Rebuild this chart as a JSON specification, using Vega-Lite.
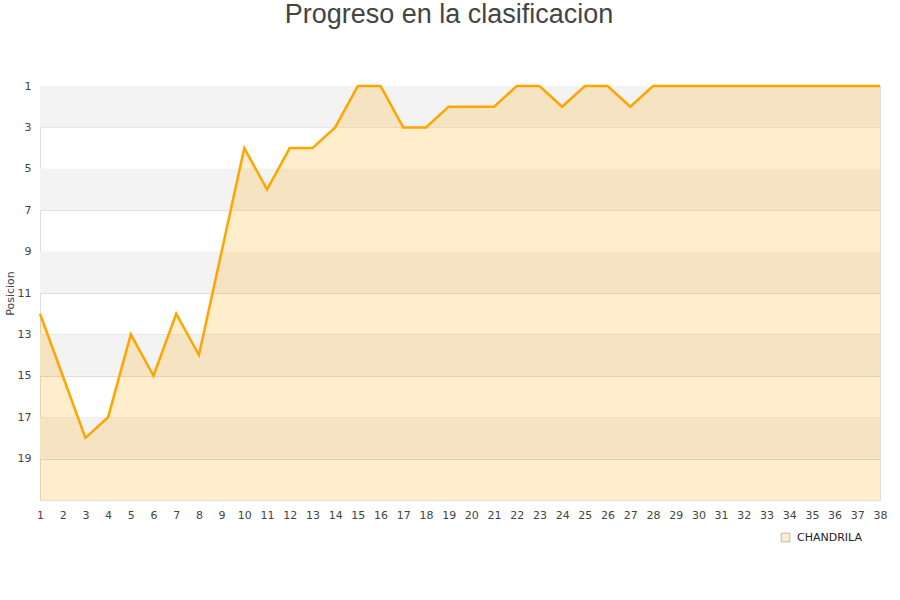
{
  "$schema": "https://vega.github.io/schema/vega-lite/v6.json",
  "autosize": "none",
  "width": 840,
  "height": 414,
  "padding": {"left": 40, "top": 86, "right": 20, "bottom": 100},
  "background": "white",
  "title": {
    "text": "Progreso en la clasificacion",
    "font": "Liberation Sans",
    "fontSize": 27,
    "fontWeight": "normal",
    "color": "#444444",
    "anchor": "middle",
    "dx": -11,
    "offset": 51
  },
  "config": {
    "view": {"stroke": "#dddddd", "strokeWidth": 1},
    "axis": {
      "labelFont": "DejaVu Sans",
      "labelFontSize": 11,
      "labelColor": "#444444",
      "domainColor": "#dddddd",
      "tickSize": 0,
      "gridColor": "#dddddd",
      "titleFont": "DejaVu Sans",
      "titleFontSize": 11,
      "titleFontWeight": "normal",
      "titleColor": "#444444",
      "labelOverlap": false
    }
  },
  "datasets": {
    "bands": [
      {"desde": 1, "hasta": 3},
      {"desde": 5, "hasta": 7},
      {"desde": 9, "hasta": 11},
      {"desde": 13, "hasta": 15},
      {"desde": 17, "hasta": 19}
    ],
    "serie": [
      {"jornada": 1, "posicion": 12, "equipo": "CHANDRILA"},
      {"jornada": 2, "posicion": 15, "equipo": "CHANDRILA"},
      {"jornada": 3, "posicion": 18, "equipo": "CHANDRILA"},
      {"jornada": 4, "posicion": 17, "equipo": "CHANDRILA"},
      {"jornada": 5, "posicion": 13, "equipo": "CHANDRILA"},
      {"jornada": 6, "posicion": 15, "equipo": "CHANDRILA"},
      {"jornada": 7, "posicion": 12, "equipo": "CHANDRILA"},
      {"jornada": 8, "posicion": 14, "equipo": "CHANDRILA"},
      {"jornada": 9, "posicion": 9, "equipo": "CHANDRILA"},
      {"jornada": 10, "posicion": 4, "equipo": "CHANDRILA"},
      {"jornada": 11, "posicion": 6, "equipo": "CHANDRILA"},
      {"jornada": 12, "posicion": 4, "equipo": "CHANDRILA"},
      {"jornada": 13, "posicion": 4, "equipo": "CHANDRILA"},
      {"jornada": 14, "posicion": 3, "equipo": "CHANDRILA"},
      {"jornada": 15, "posicion": 1, "equipo": "CHANDRILA"},
      {"jornada": 16, "posicion": 1, "equipo": "CHANDRILA"},
      {"jornada": 17, "posicion": 3, "equipo": "CHANDRILA"},
      {"jornada": 18, "posicion": 3, "equipo": "CHANDRILA"},
      {"jornada": 19, "posicion": 2, "equipo": "CHANDRILA"},
      {"jornada": 20, "posicion": 2, "equipo": "CHANDRILA"},
      {"jornada": 21, "posicion": 2, "equipo": "CHANDRILA"},
      {"jornada": 22, "posicion": 1, "equipo": "CHANDRILA"},
      {"jornada": 23, "posicion": 1, "equipo": "CHANDRILA"},
      {"jornada": 24, "posicion": 2, "equipo": "CHANDRILA"},
      {"jornada": 25, "posicion": 1, "equipo": "CHANDRILA"},
      {"jornada": 26, "posicion": 1, "equipo": "CHANDRILA"},
      {"jornada": 27, "posicion": 2, "equipo": "CHANDRILA"},
      {"jornada": 28, "posicion": 1, "equipo": "CHANDRILA"},
      {"jornada": 29, "posicion": 1, "equipo": "CHANDRILA"},
      {"jornada": 30, "posicion": 1, "equipo": "CHANDRILA"},
      {"jornada": 31, "posicion": 1, "equipo": "CHANDRILA"},
      {"jornada": 32, "posicion": 1, "equipo": "CHANDRILA"},
      {"jornada": 33, "posicion": 1, "equipo": "CHANDRILA"},
      {"jornada": 34, "posicion": 1, "equipo": "CHANDRILA"},
      {"jornada": 35, "posicion": 1, "equipo": "CHANDRILA"},
      {"jornada": 36, "posicion": 1, "equipo": "CHANDRILA"},
      {"jornada": 37, "posicion": 1, "equipo": "CHANDRILA"},
      {"jornada": 38, "posicion": 1, "equipo": "CHANDRILA"}
    ]
  },
  "layer": [
    {
      "data": {"name": "bands"},
      "mark": {"type": "rect", "color": "#f3f3f3"},
      "encoding": {
        "y": {"field": "desde", "type": "quantitative", "scale": {"domain": [1, 21], "reverse": true, "nice": false, "zero": false},
          "axis": {"title": "Posicion", "values": [1,3,5,7,9,11,13,15,17,19], "grid": true, "labelPadding": 9, "titlePadding": 2, "labelOverlap": false}},
        "y2": {"field": "hasta"}
      }
    },
    {
      "data": {"name": "serie"},
      "mark": {"type": "area", "opacity": 0.2, "color": "#ffa500"},
      "encoding": {
        "x": {
          "field": "jornada", "type": "quantitative",
          "scale": {"domain": [1, 38], "nice": false, "zero": false},
          "axis": {"title": null, "values": [1,2,3,4,5,6,7,8,9,10,11,12,13,14,15,16,17,18,19,20,21,22,23,24,25,26,27,28,29,30,31,32,33,34,35,36,37,38], "grid": false, "labelPadding": 9, "labelFlush": false, "labelOverlap": false, "labelBound": false}
        },
        "y": {
          "field": "posicion", "type": "quantitative",
          "scale": {"domain": [1, 21], "reverse": true, "nice": false, "zero": false},
          "axis": {"title": "Posicion", "values": [1,3,5,7,9,11,13,15,17,19], "grid": true, "labelPadding": 9, "titlePadding": 2, "labelOverlap": false}
        },
        "y2": {"datum": 21},
        "color": {
          "field": "equipo", "type": "nominal",
          "scale": {"range": ["#ffa500"]},
          "legend": {
            "title": null,
            "orient": "none",
            "legendX": 740,
            "legendY": 446,
            "symbolType": "square",
            "symbolSize": 70,
            "symbolStrokeColor": "#000000",
            "symbolStrokeWidth": 1.5,
            "labelFont": "DejaVu Sans",
            "labelFontSize": 11,
            "labelColor": "#222222",
            "labelOffset": 6
          }
        }
      }
    },
    {
      "data": {"name": "serie"},
      "mark": {"type": "line", "color": "#ffa500", "strokeWidth": 2.5},
      "encoding": {
        "x": {"field": "jornada", "type": "quantitative",
          "axis": {"title": null, "values": [1,2,3,4,5,6,7,8,9,10,11,12,13,14,15,16,17,18,19,20,21,22,23,24,25,26,27,28,29,30,31,32,33,34,35,36,37,38], "grid": false, "labelPadding": 9, "labelFlush": false, "labelOverlap": false, "labelBound": false}},
        "y": {"field": "posicion", "type": "quantitative",
          "axis": {"title": "Posicion", "values": [1,3,5,7,9,11,13,15,17,19], "grid": true, "labelPadding": 9, "titlePadding": 2, "labelOverlap": false}}
      }
    }
  ]
}
